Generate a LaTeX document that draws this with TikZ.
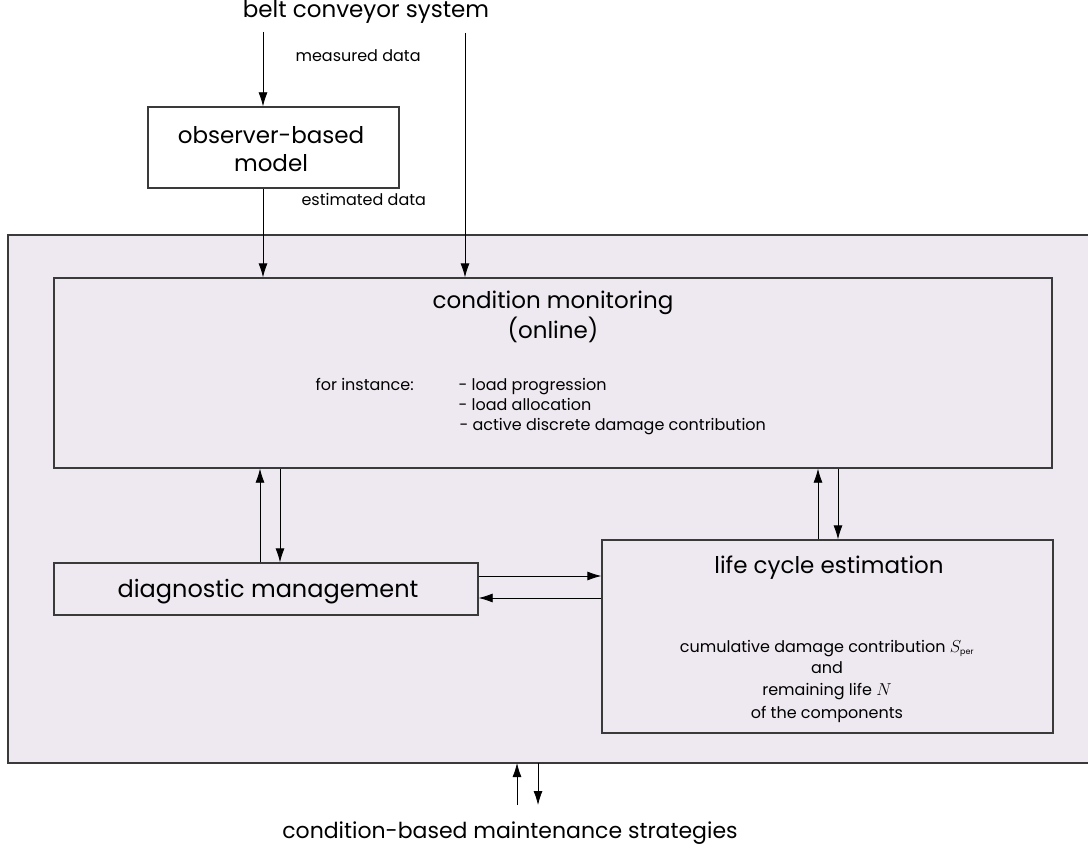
\documentclass[tikz,border=0pt]{standalone}
\usepackage{fontspec}
\setmainfont{Poppins}
\usetikzlibrary{arrows.meta}
\definecolor{panel}{HTML}{EEE9F0}
\definecolor{edge}{HTML}{3A3A3A}
\tikzset{
  box/.style={draw=edge, line width=1.3pt, fill=panel, inner sep=0pt},
  conn/.style={line width=0.8pt, -{Latex[length=14pt,width=9pt]}},
  big/.style={font=\fontsize{23}{28}\selectfont},
  bot/.style={font=\fontsize{22}{26}\selectfont},
  small/.style={font=\fontsize{16}{19}\selectfont},
  mid/.style={font=\fontsize{16}{20}\selectfont},
}
\begin{document}
\begin{tikzpicture}[x=1pt,y=-1pt]
\useasboundingbox[fill=white] (0,0) rectangle (1088,851);
% outer panel
\draw[draw=edge, line width=1.1pt, fill=panel] (8,235) rectangle (1100,763);
\node[box, minimum width=251pt, minimum height=81pt, fill=white] (obs) at (273.5,147.5) {};
\node[big, align=center] at (271,149) {observer-based\\model};
\node[box, minimum width=998pt, minimum height=190pt] (cm) at (553,373) {};
\node[box, minimum width=424pt, minimum height=52pt] (diag) at (266,589) {};
\node[box, minimum width=451pt, minimum height=193pt] (lc) at (827.5,636.5) {};
% texts
\node[big, anchor=base] (title) at (366,18) {belt conveyor system};
\node[small, anchor=base west] (meas) at (292,62) {measured data};
\node[small, anchor=base west] (est) at (298,205) {estimated data};
\node[big, anchor=base] (cmt) at (553,308) {condition monitoring};
\node[big, anchor=base] (cmo) at (553,338) {(online)};
\node[mid, anchor=base west] (fi) at (312,390) {for instance:};
\node[mid, anchor=base west] (l1) at (455,390) {- load progression};
\node[mid, anchor=base west] (l2) at (455,410) {- load allocation};
\node[mid, anchor=base west] (l3) at (456,430) {- active discrete damage contribution};
\node[font=\fontsize{24}{28}\selectfont, anchor=base] (dt) at (268,597) {diagnostic management};
\node[big, anchor=base] (lct) at (829,573) {life cycle estimation};
\node[mid, anchor=base, align=center] (lcb) at (827,652) {cumulative damage contribution $S_{\scriptscriptstyle\mathrm{per}}$};
\node[mid, anchor=base] (lcb2) at (827,673) {and};
\node[mid, anchor=base] (lcb3) at (827,695) {remaining life $N$};
\node[mid, anchor=base] (lcb4) at (827,718) {of the components};
\node[bot, anchor=base] (botl) at (510,838) {condition-based maintenance strategies};
% coordinates
\coordinate (t1) at (263,32);
\coordinate (t2) at (465,33);
\coordinate (b1) at (517,805);
\coordinate (b2) at (538,805);
% connectors
\draw[conn] (t1) -- (obs.north -| t1);
\draw[conn] (obs.south -| t1) -- (cm.north -| t1);
\draw[conn] (t2) -- (cm.north -| t2);
\draw[conn] (diag.north -| 260,0) -- (cm.south -| 260,0);
\draw[conn] (cm.south -| 280,0) -- (diag.north -| 280,0);
\draw[conn] (lc.north -| 818,0) -- (cm.south -| 818,0);
\draw[conn] (cm.south -| 838,0) -- (lc.north -| 838,0);
\draw[conn] (diag.east |- 0,576) -- (lc.west |- 0,576);
\draw[conn] (lc.west |- 0,598) -- (diag.east |- 0,598);
\draw[conn] (b1) -- (b1 |- 0,763);
\draw[conn] (538,763) -- (b2);
\end{tikzpicture}
\end{document}
